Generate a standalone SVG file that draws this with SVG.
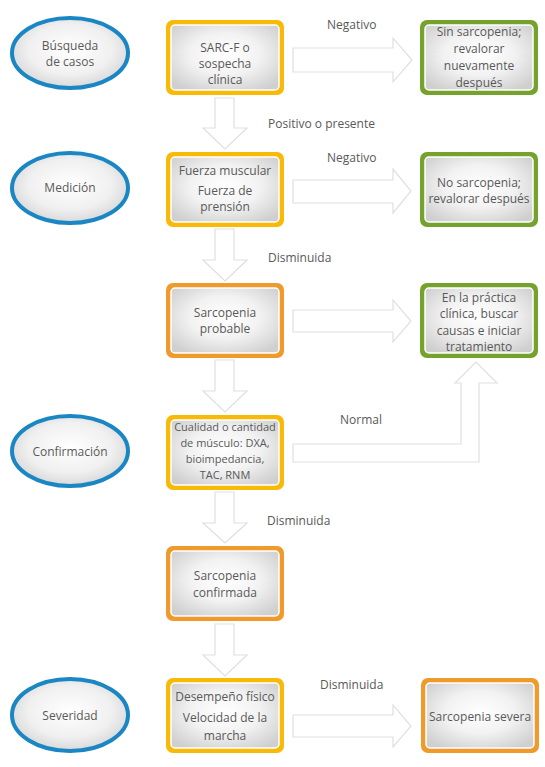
<svg xmlns="http://www.w3.org/2000/svg" width="545" height="767" viewBox="0 0 545 767">
<defs>
<radialGradient id="gb" cx="50%" cy="45%" r="65%">
<stop offset="0" stop-color="#ffffff"/><stop offset="0.5" stop-color="#f2f2f2"/><stop offset="1" stop-color="#cfcfcf"/>
</radialGradient>
<radialGradient id="ge" cx="50%" cy="45%" r="60%">
<stop offset="0" stop-color="#ffffff"/><stop offset="0.6" stop-color="#f0f0f0"/><stop offset="1" stop-color="#d2d2d2"/>
</radialGradient>
</defs>
<style>
text{font-family:"Open Sans","Noto Sans","Liberation Sans",sans-serif;fill:#595959;font-size:12px;text-anchor:middle}
.lbl{text-anchor:start}
.in{fill:url(#gb);stroke:#ffffff;stroke-width:1.5}
.y{fill:#f8b907}
.o{fill:#f09a2c}
.g{fill:#74a22d}
.el{fill:url(#ge);stroke:#1a86c4;stroke-width:4}
.ar{fill:#ffffff;stroke:#e0e0e0;stroke-width:1.2}
.sm{font-size:11px}
</style>
<rect width="545" height="767" fill="#ffffff"/>
<g id="connectors">
<polygon class="ar" points="293,48 393,48 393,38 412,60 393,82 393,72 293,72"/>
<polygon class="ar" points="293,180 393,180 393,169 411,191 393,213 393,203 293,203"/>
<polygon class="ar" points="293,310 393,310 393,300 411,321 393,342 393,332 293,332"/>
<polygon class="ar" points="293,715 393,715 393,705 411,726 393,747 393,737 293,737"/>
<polygon class="ar" points="293,444 461,444 461,383 455,383 476,362 497,383 479,383 479,462 293,462"/>
<polygon class="ar" points="215,98 234,98 234,128 247,128 225,149 203,128 215,128"/>
<polygon class="ar" points="215,229 234,229 234,260 247,260 225,281 203,260 215,260"/>
<polygon class="ar" points="215,360 234,360 234,391 247,391 225,412 203,391 215,391"/>
<polygon class="ar" points="215,492 234,492 234,523 247,523 225,543 203,523 215,523"/>
<polygon class="ar" points="215,624 234,624 234,655 247,655 225,676 203,655 215,655"/>
<text class="lbl" x="327" y="29">Negativo</text>
<text class="lbl" x="268" y="128">Positivo o presente</text>
<text class="lbl" x="327" y="162">Negativo</text>
<text class="lbl" x="268" y="262">Disminuida</text>
<text class="lbl" x="340" y="424">Normal</text>
<text class="lbl" x="267" y="525">Disminuida</text>
<text class="lbl" x="320" y="689">Disminuida</text>
</g>
<g id="e1"><ellipse class="el" cx="70" cy="53" rx="58" ry="35"/><text x="70" y="50">Búsqueda</text><text x="70" y="66">de casos</text></g>
<g id="e2"><ellipse class="el" cx="70" cy="188" rx="58" ry="35"/><text x="70" y="192">Medición</text></g>
<g id="e3"><ellipse class="el" cx="70" cy="451" rx="58" ry="35"/><text x="70" y="456">Confirmación</text></g>
<g id="e4"><ellipse class="el" cx="70" cy="715" rx="58" ry="36"/><text x="70" y="720">Severidad</text></g>
<g id="b1"><rect class="y" x="166" y="20" width="118" height="75" rx="7"/><rect class="in" x="171" y="25" width="108" height="65" rx="4"/><text x="225" y="52">SARC-F o</text><text x="225" y="68">sospecha</text><text x="225" y="84">clínica</text></g>
<g id="g1"><rect class="g" x="420" y="20" width="118" height="75" rx="7"/><rect class="in" x="425" y="25" width="108" height="65" rx="4"/><text x="479" y="36">Sin sarcopenia;</text><text x="479" y="53">revalorar</text><text x="479" y="70">nuevamente</text><text x="479" y="87">después</text></g>
<g id="b2"><rect class="y" x="166" y="152" width="118" height="75" rx="7"/><rect class="in" x="171" y="157" width="108" height="65" rx="4"/><text x="225" y="175">Fuerza muscular</text><text x="225" y="195">Fuerza de</text><text x="225" y="211">prensión</text></g>
<g id="g2"><rect class="g" x="420" y="152" width="118" height="75" rx="7"/><rect class="in" x="425" y="157" width="108" height="65" rx="4"/><text x="479" y="187">No sarcopenia;</text><text x="479" y="203">revalorar después</text></g>
<g id="b3"><rect class="o" x="166" y="283" width="118" height="75" rx="7"/><rect class="in" x="171" y="288" width="108" height="65" rx="4"/><text x="225" y="317">Sarcopenia</text><text x="225" y="333">probable</text></g>
<g id="g3"><rect class="g" x="420" y="283" width="118" height="75" rx="7"/><rect class="in" x="425" y="288" width="108" height="65" rx="4"/><text x="479" y="302">En la práctica</text><text x="479" y="318">clínica, buscar</text><text x="479" y="335">causas e iniciar</text><text x="479" y="351">tratamiento</text></g>
<g id="b4"><rect class="y" x="166" y="415" width="118" height="75" rx="7"/><rect class="in" x="171" y="420" width="108" height="65" rx="4"/><text class="sm" x="225" y="431">Cualidad o cantidad</text><text class="sm" x="225" y="447">de músculo: DXA,</text><text class="sm" x="225" y="463">bioimpedancia,</text><text class="sm" x="225" y="479">TAC, RNM</text></g>
<g id="b5"><rect class="o" x="166" y="546" width="118" height="75" rx="7"/><rect class="in" x="171" y="551" width="108" height="65" rx="4"/><text x="225" y="580">Sarcopenia</text><text x="225" y="597">confirmada</text></g>
<g id="b6"><rect class="y" x="166" y="678" width="118" height="75" rx="7"/><rect class="in" x="171" y="683" width="108" height="65" rx="4"/><text x="225" y="701">Desempeño físico</text><text x="225" y="722">Velocidad de la</text><text x="225" y="740">marcha</text></g>
<g id="b7"><rect class="o" x="421" y="678" width="118" height="75" rx="7"/><rect class="in" x="426" y="683" width="108" height="65" rx="4"/><text x="480" y="721">Sarcopenia severa</text></g>
</svg>
